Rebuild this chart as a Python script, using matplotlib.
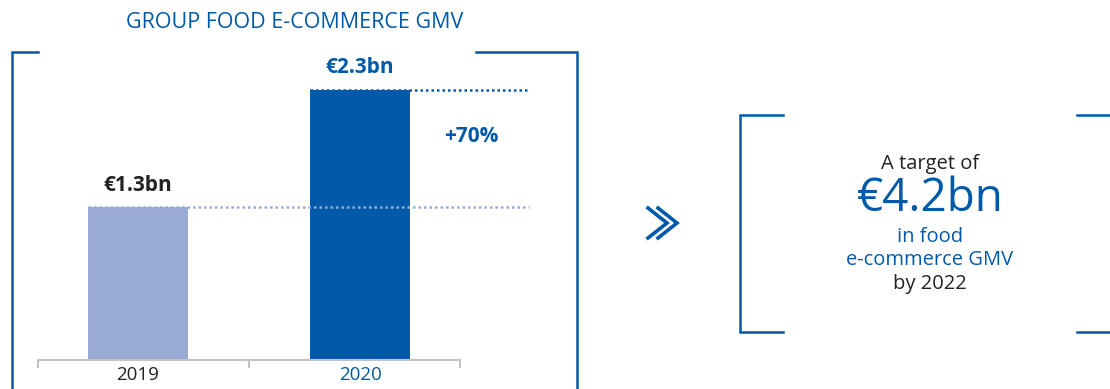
import matplotlib
matplotlib.use("Agg")
import matplotlib.pyplot as plt
from matplotlib.lines import Line2D

years = ["2019", "2020"]
gmv = [1.3, 2.3]
value_labels = ["€1.3bn", "€2.3bn"]
growth_label = "+70%"
title = "GROUP FOOD E-COMMERCE GMV"
target_lines = ["A target of", "€4.2bn", "in food", "e-commerce GMV", "by 2022"]

BLUE = "#005aa9"
LIGHT = "#99aad5"
DARK = "#222222"
GREY = "#c4c4c4"

plt.rcParams["font.family"] = ["Open Sans", "DejaVu Sans"]

W, H = 1110, 389
fig = plt.figure(figsize=(W / 100, H / 100), dpi=100)


def fx(x):
    return x / W


def fy(y):
    return 1 - y / H


def fline(xs, ys, **kw):
    fig.add_artist(Line2D([fx(v) for v in xs], [fy(v) for v in ys],
                          transform=fig.transFigure, **kw))


# bar axes: 38..460 px wide, baseline at y=360
ax = fig.add_axes([fx(38), fy(360), fx(460) - fx(38), (360 - 52) / H])
ax.set_xlim(-0.45, 1.45)
ax.set_ylim(0, 308 / 117.4)
xs = [0, 1]
ax.bar(xs, gmv, width=0.45, color=[LIGHT, BLUE])
for s in ["top", "right", "left"]:
    ax.spines[s].set_visible(False)
ax.spines["bottom"].set_color(GREY)
ax.spines["bottom"].set_linewidth(1.5)
ax.set_yticks([])
ax.set_xticks([-0.45, 0.5, 1.45])
ax.tick_params(axis="x", length=6, width=1.5, color=GREY, labelbottom=False)
for x, lab, c in zip(xs, years, [DARK, BLUE]):
    ax.text(x, -0.05, lab, ha="center", va="top", fontsize=13.5, color=c)

# dotted reference lines
ax.plot([-0.225, 1.76], [gmv[0]] * 2, ls=(0, (1, 1.2)), lw=1.8, color=LIGHT, clip_on=False)
ax.plot([0.775, 1.76], [gmv[1]] * 2, ls=(0, (1, 1.2)), lw=1.8, color=BLUE, clip_on=False)

ax.text(0, gmv[0] + 0.1, value_labels[0], ha="center", va="bottom", fontsize=15,
        fontweight="bold", color=DARK)
ax.text(1, gmv[1] + 0.1, value_labels[1], ha="center", va="bottom", fontsize=15,
        fontweight="bold", color=BLUE)
ax.text(1.5, 1.9, growth_label, ha="center", va="center", fontsize=15,
        fontweight="bold", color=BLUE, clip_on=False)

fig.text(fx(295), fy(22), title, ha="center", va="center", fontsize=15.5,
         color=BLUE)

# left bracket frame
lw = 1.8
fline([38, 12, 12], [52, 52, 395], color=BLUE, lw=lw, solid_joinstyle="miter")
fline([476, 577, 577], [52, 52, 395], color=BLUE, lw=lw, solid_joinstyle="miter")

# chevron
fline([648, 667, 648], [208, 223, 238], color=BLUE, lw=2.6, solid_joinstyle="miter")
fline([658, 677, 658], [208, 223, 238], color=BLUE, lw=2.6, solid_joinstyle="miter")

# right bracket frame
fline([783, 740, 740, 783], [115, 115, 332, 332], color=BLUE, lw=lw, solid_joinstyle="miter")
fline([1077, 1115], [115, 115], color=BLUE, lw=lw)
fline([1077, 1115], [332, 332], color=BLUE, lw=lw)

cx = 930
fig.text(fx(cx), fy(164), target_lines[0], ha="center", va="center", fontsize=14.5,
         color=DARK)
fig.text(fx(cx), fy(199), target_lines[1], ha="center", va="center", fontsize=33,
         color=BLUE)
fig.text(fx(cx), fy(237), target_lines[2], ha="center", va="center", fontsize=14.5,
         color=BLUE)
fig.text(fx(cx), fy(260), target_lines[3], ha="center", va="center", fontsize=14.5,
         color=BLUE)
fig.text(fx(cx), fy(284), target_lines[4], ha="center", va="center", fontsize=14.5,
         color=DARK)

fig.savefig("out.png", dpi=100)
